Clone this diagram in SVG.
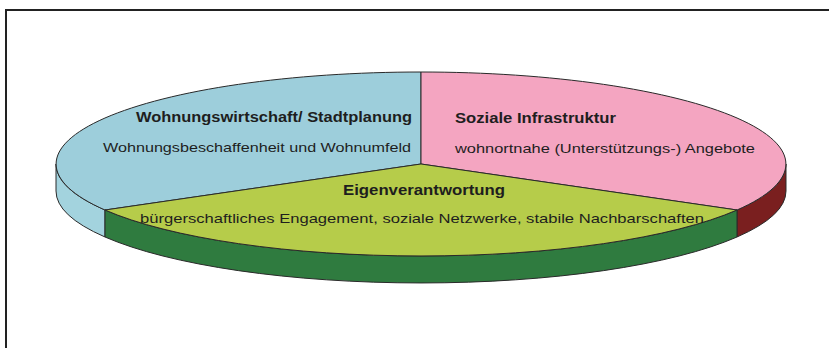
<svg xmlns="http://www.w3.org/2000/svg" width="829" height="348" viewBox="0 0 829 348">
  <style>
    .edge { stroke: #2a2a2a; stroke-width: 1; stroke-linejoin: round; }
    .title { font-family: "Liberation Sans", Arial, sans-serif; font-size: 14px; font-weight: bold; fill: #1e1e1e; }
    .sub { font-family: "Liberation Sans", Arial, sans-serif; font-size: 13.5px; fill: #1e1e1e; }
  </style>
  <rect x="0" y="0" width="829" height="348" fill="#ffffff"/>
  <!-- frame: only the top and left edges fall inside the canvas -->
  <path d="M6,348 L6,10 L829,10" fill="none" stroke="#222" stroke-width="2"/>

  <!-- pie: top face ellipse centre (421,164), rx 365, ry 92, depth 27 -->
  <g id="wohnungswirtschaft">
    <path class="edge" fill="#a3d3de" d="M56,164 A365,92 0 0 0 105,210 L105,237 A365,92 0 0 1 56,191 Z"/>
    <path class="edge" fill="#9dcedb" d="M421,164 L421,72 A365,92 0 0 0 105,210 Z"/>
    <text class="title" x="412" y="122" text-anchor="end" textLength="276" lengthAdjust="spacingAndGlyphs">Wohnungswirtschaft/ Stadtplanung</text>
    <text class="sub" x="411" y="152" text-anchor="end" textLength="308" lengthAdjust="spacingAndGlyphs">Wohnungsbeschaffenheit und Wohnumfeld</text>
  </g>

  <g id="soziale-infrastruktur">
    <path class="edge" fill="#7a1f1f" d="M737,210 A365,92 0 0 0 786,164 L786,191 A365,92 0 0 1 737,237 Z"/>
    <path class="edge" fill="#f4a5c1" d="M421,164 L421,72 A365,92 0 0 1 737,210 Z"/>
    <text class="title" x="455" y="123" textLength="161" lengthAdjust="spacingAndGlyphs">Soziale Infrastruktur</text>
    <text class="sub" x="455" y="153" textLength="300" lengthAdjust="spacingAndGlyphs">wohnortnahe (Unterstützungs-) Angebote</text>
  </g>

  <g id="eigenverantwortung">
    <path class="edge" fill="#2f7b3f" d="M105,210 A365,92 0 0 0 737,210 L737,237 A365,92 0 0 1 105,237 Z"/>
    <path class="edge" fill="#b6cc4a" d="M421,164 L105,210 A365,92 0 0 0 737,210 Z"/>
    <text class="title" x="424" y="195" text-anchor="middle" textLength="162" lengthAdjust="spacingAndGlyphs">Eigenverantwortung</text>
    <text class="sub" x="422" y="223" text-anchor="middle" textLength="564" lengthAdjust="spacingAndGlyphs">bürgerschaftliches Engagement, soziale Netzwerke, stabile Nachbarschaften</text>
  </g>

  <g id="connectors"/>
</svg>
